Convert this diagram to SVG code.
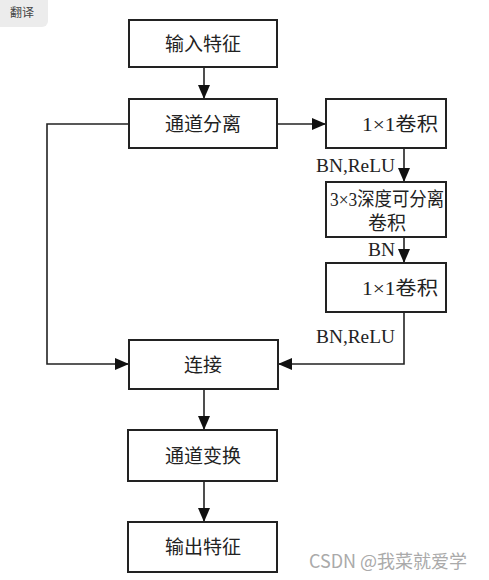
<svg xmlns="http://www.w3.org/2000/svg" width="489" height="580" viewBox="0 0 489 580">
<style>
.box{fill:#fff;stroke:#222;stroke-width:2}
.t{font-family:"Liberation Serif","Noto Sans CJK SC",serif;font-size:19px;fill:#222;text-anchor:middle}
.l{font-family:"Liberation Serif",serif;font-size:18px;fill:#222}
.c{fill:none;stroke:#222;stroke-width:1.6}
</style>
<defs>
<marker id="a" markerUnits="userSpaceOnUse" markerWidth="14" markerHeight="14" viewBox="0 0 14 14" refX="13" refY="7" orient="auto">
<path d="M0,1 L14,7 L0,13 Z" fill="#111"/>
</marker>
</defs>
<rect width="489" height="580" fill="#fff"/>
<g id="translate">
<rect x="-6" y="-6" width="54" height="33" rx="6" fill="#ececec"/>
<text x="22" y="17" font-family="Noto Sans CJK SC,sans-serif" font-size="12" fill="#444" text-anchor="middle">翻译</text>
</g>
<g id="connectors">
<path class="c" d="M204,67 V98" marker-end="url(#a)"/>
<path class="c" d="M277,124 H325" marker-end="url(#a)"/>
<path class="c" d="M404,148 V181" marker-end="url(#a)"/>
<path class="c" d="M404,237 V262" marker-end="url(#a)"/>
<path class="c" d="M404,312 V364 H279" marker-end="url(#a)"/>
<path class="c" d="M129,124 H47 V364 H128" marker-end="url(#a)"/>
<path class="c" d="M204,389 V429" marker-end="url(#a)"/>
<path class="c" d="M204,481 V521" marker-end="url(#a)"/>
<text class="l" x="316" y="172" textLength="79" lengthAdjust="spacingAndGlyphs">BN,ReLU</text>
<text class="l" x="368" y="256" textLength="27" lengthAdjust="spacingAndGlyphs">BN</text>
<text class="l" x="316" y="343" textLength="79" lengthAdjust="spacingAndGlyphs">BN,ReLU</text>
</g>
<g id="n1"><rect class="box" x="129" y="20" width="148" height="47"/><text class="t" x="203" y="51">输入特征</text></g>
<g id="n2"><rect class="box" x="129" y="99" width="148" height="49"/><text class="t" x="203" y="131">通道分离</text></g>
<g id="n3"><rect class="box" x="326" y="99" width="120" height="49"/><text class="t" x="400" y="131" textLength="76" lengthAdjust="spacingAndGlyphs">1×1卷积</text></g>
<g id="n4"><rect class="box" x="326" y="182" width="120" height="55"/><text class="t" x="387" y="206" textLength="114" lengthAdjust="spacingAndGlyphs">3×3深度可分离</text><text class="t" x="387" y="230">卷积</text></g>
<g id="n5"><rect class="box" x="326" y="263" width="120" height="49"/><text class="t" x="400" y="295" textLength="76" lengthAdjust="spacingAndGlyphs">1×1卷积</text></g>
<g id="n6"><rect class="box" x="129" y="340" width="149" height="49"/><text class="t" x="203" y="372">连接</text></g>
<g id="n7"><rect class="box" x="128" y="430" width="149" height="51"/><text class="t" x="203" y="463">通道变换</text></g>
<g id="n8"><rect class="box" x="128" y="522" width="149" height="50"/><text class="t" x="203" y="554">输出特征</text></g>
<text x="388" y="568" font-family="Noto Sans CJK SC,sans-serif" font-size="18" fill="#aaa" text-anchor="middle">CSDN @我菜就爱学</text>
</svg>
